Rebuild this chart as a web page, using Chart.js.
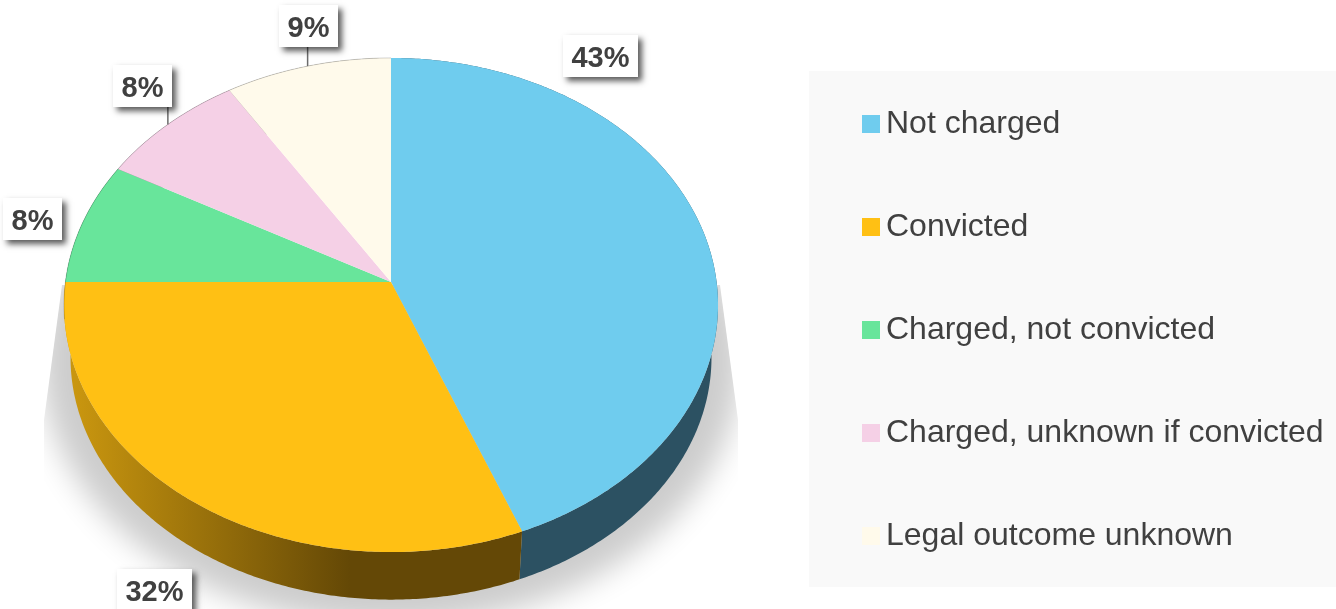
<!DOCTYPE html>
<html>
<head>
<meta charset="utf-8">
<title>Legal outcomes</title>
<script src="https://cdn.jsdelivr.net/npm/chart.js@4"></script>
<style>
    html, body { margin: 0; padding: 0; background: #fff; }
    canvas { display: block; }
</style>
</head>
<body>
<canvas id="pieChart" width="1336" height="609"></canvas>
<script>
// Chart data
const categories = ['Not charged', 'Convicted', 'Charged, not convicted', 'Charged, unknown if convicted', 'Legal outcome unknown'];
const shares = [43, 32, 8, 8, 9];

// Slice styling
const sliceColors = ['#6fccee', '#ffc014', '#68e59b', '#f5d0e6', '#fffaeb'];
const wallColors = ['#2c5162', null, '#3a8a5c', '#937d8a', '#99968d'];

// Label boxes are placed by hand: [left, top, width, has leader line]
const labelBoxes = [
    [563, 35, 75, false],
    [117, 569, 75, false],
    [3, 198, 59, false],
    [113, 65, 59, true],
    [279, 5, 59, true]
];

// Tilted disc: apex, radii and perspective of the top face
const apexX = 391;
const apexY = 282;
const radiusX = 325.6;
const radiusY = 244.9;
const tilt = 0.0931;
const frontStretch = 0.065; // radians, the 3D view pushes the front edges round a bit

function project(angle, scale, shiftY) {
    // angle 0 is the top of the disc here, going clockwise
    const fromTop = angle + Math.PI / 2;
    const warped = fromTop < Math.PI * 1.5 ? angle + frontStretch * Math.sin(fromTop * 2 / 3) : angle;
    const u = Math.cos(warped);
    const v = Math.sin(warped);
    const w = 1 - tilt * v;
    return {
        x: apexX + scale * radiusX * u / w,
        y: apexY + shiftY + scale * radiusY * v / w
    };
}

function arcPoints(start, end, scale, shiftY) {
    const steps = Math.max(2, Math.ceil((end - start) / 0.01));
    const points = [];
    for (let i = 0; i <= steps; i++) {
        points.push(project(start + (end - start) * i / steps, scale, shiftY));
    }
    return points;
}

function tracePoints(ctx, points) {
    points.forEach((p) => ctx.lineTo(p.x, p.y));
}

function drawShadow(ctx) {
    ctx.save();
    ctx.beginPath();
    ctx.moveTo(62, 285);
    ctx.lineTo(44, 420);
    ctx.lineTo(44, 609);
    ctx.lineTo(738, 609);
    ctx.lineTo(738, 420);
    ctx.lineTo(720, 285);
    ctx.closePath();
    ctx.clip();
    // Shape sits off canvas so only its blurred shadow lands on the page
    ctx.shadowColor = '#cdcdcd';
    ctx.shadowBlur = 30;
    ctx.shadowOffsetX = 2000;
    ctx.fillStyle = '#000';
    ctx.beginPath();
    arcPoints(-Math.PI / 2, Math.PI * 1.5, 1.07, 55).forEach((p) => ctx.lineTo(p.x - 2000, p.y));
    ctx.closePath();
    ctx.fill();
    ctx.restore();
}

const discPlugin = {
    id: 'disc',
    beforeDraw(chart) {
        const ctx = chart.ctx;
        ctx.save();
        ctx.fillStyle = '#f9f9f9';
        ctx.fillRect(809, 71, 527, 516);
        ctx.restore();
    },
    afterLayout(chart) {
        const legend = chart.legend;
        legend.left = 862 - legend.options.labels.padding;
        legend.top = 61;
    },
    beforeDatasetsDraw(chart) {
        const ctx = chart.ctx;
        const arcs = chart.getDatasetMeta(0).data;
        drawShadow(ctx);

        // Side wall
        const orangeWall = ctx.createLinearGradient(75, 0, 350, 0);
        orangeWall.addColorStop(0, '#c9960f');
        orangeWall.addColorStop(1, '#644806');
        arcs.forEach((arc, i) => {
            const top = arcPoints(arc.startAngle, arc.endAngle, 1, 0);
            const bottom = arcPoints(arc.startAngle, arc.endAngle, 0.98, 53).reverse();
            ctx.beginPath();
            tracePoints(ctx, top.concat(bottom));
            ctx.closePath();
            ctx.fillStyle = wallColors[i] || orangeWall;
            ctx.fill();
        });

        // Top face
        arcs.forEach((arc, i) => {
            ctx.beginPath();
            ctx.moveTo(apexX, apexY);
            tracePoints(ctx, arcPoints(arc.startAngle, arc.endAngle, 1, 0));
            ctx.closePath();
            ctx.fillStyle = arc.options.backgroundColor;
            ctx.fill();
        });

        // Thin edge along the back of the disc
        ctx.beginPath();
        tracePoints(ctx, arcPoints(Math.PI * 0.95, Math.PI * 1.5, 1, 0));
        ctx.strokeStyle = 'rgba(0,0,0,0.22)';
        ctx.lineWidth = 0.8;
        ctx.stroke();
        return false;
    },
    afterDraw(chart) {
        const ctx = chart.ctx;
        const arcs = chart.getDatasetMeta(0).data;

        // Legend squares: the built-in swatch is transparent, its size only sets the row pitch
        chart.legend.legendHitBoxes.forEach((hit, i) => {
            ctx.fillStyle = sliceColors[i];
            ctx.fillRect(hit.left, hit.top + hit.height / 2 - 9, 18, 18);
        });

        // Value labels
        labelBoxes.forEach((box, i) => {
            const [left, top, width, hasLeader] = box;
            const height = 42;
            if (hasLeader) {
                const mid = project((arcs[i].startAngle + arcs[i].endAngle) / 2, 1, 0);
                ctx.beginPath();
                ctx.moveTo(mid.x, top + height);
                ctx.lineTo(mid.x, mid.y);
                ctx.strokeStyle = '#6b6b6b';
                ctx.lineWidth = 1.5;
                ctx.stroke();
            }
            ctx.save();
            ctx.shadowColor = 'rgba(0,0,0,0.65)';
            ctx.shadowBlur = 6;
            ctx.shadowOffsetX = 4;
            ctx.shadowOffsetY = 4;
            ctx.fillStyle = '#fff';
            ctx.fillRect(left, top, width, height);
            ctx.restore();
            ctx.fillStyle = '#404040';
            ctx.font = 'bold 29px "Liberation Sans", Arial, sans-serif';
            ctx.textAlign = 'center';
            ctx.textBaseline = 'middle';
            ctx.fillText(shares[i] + '%', left + width / 2, top + height / 2 + 3);
        });
    }
};

new Chart(document.getElementById('pieChart').getContext('2d'), {
    type: 'pie',
    data: {
        labels: categories,
        datasets: [{
            data: shares,
            backgroundColor: sliceColors,
            borderWidth: 0
        }]
    },
    options: {
        responsive: false,
        animation: false,
        plugins: {
            legend: {
                position: 'right',
                align: 'start',
                labels: {
                    boxWidth: 8,
                    boxHeight: 80,
                    padding: 23,
                    color: '#404040',
                    font: { family: '"Liberation Sans", Arial, sans-serif', size: 32 },
                    generateLabels(chart) {
                        const items = Chart.overrides.pie.plugins.legend.labels.generateLabels(chart);
                        items.forEach((item) => { item.fillStyle = 'transparent'; });
                        return items;
                    }
                }
            },
            tooltip: { enabled: false }
        }
    },
    plugins: [discPlugin]
});
</script>
</body>
</html>
